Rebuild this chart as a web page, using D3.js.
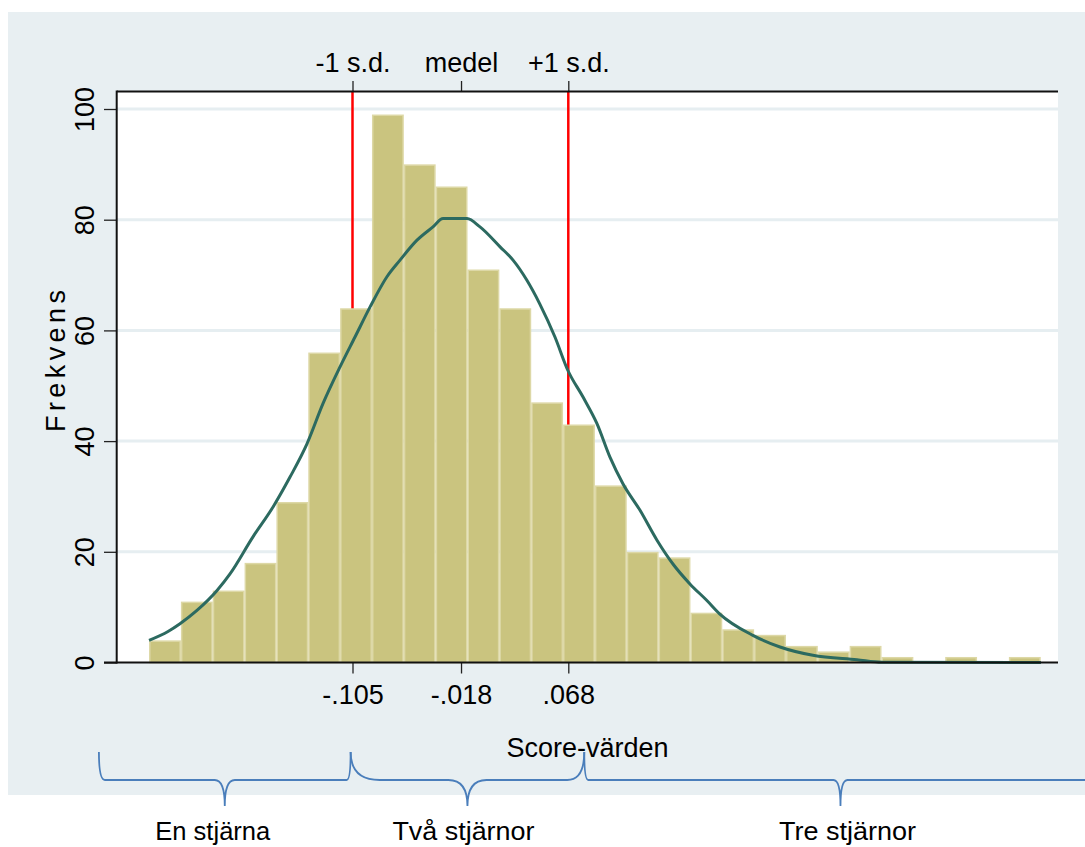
<!DOCTYPE html>
<html><head><meta charset="utf-8">
<script src="https://cdn.jsdelivr.net/npm/d3@7"></script>
<style>
body{margin:0;background:#fff}
svg{display:block}
text{font-family:"Liberation Sans",Arial,sans-serif;fill:#000}
</style>
</head><body>
<svg id="c" width="1085" height="847"></svg>
<script>
// ---------- data ----------
const binStart = -0.2681;
const binWidth = 0.02553;
const counts = [4,11,13,18,29,56,64,99,90,86,71,64,47,43,32,20,19,9,6,5,3,2,3,1,0,1,0,1];
const bottomTicks = [-0.105, -0.018, 0.068];
const bottomTickLabels = ["-.105", "-.018", ".068"];
const topTickLabels = ["-1 s.d.", "medel", "+1 s.d."];
const sdLines = [-0.105, 0.068];
const yTicks = [0, 20, 40, 60, 80, 100];
const curveX = [-0.2681,-0.2529,-0.2433,-0.2297,-0.2136,-0.2032,-0.1848,-0.1687,-0.1551,-0.1415,-0.1286,-0.1150,-0.1030,-0.0910,-0.0774,-0.0669,-0.0533,-0.0405,-0.0324,-0.0132,-0.0028,0.0133,0.0237,0.0347,0.0451,0.0573,0.0676,0.0797,0.0909,0.1014,0.1118,0.1255,0.1391,0.1519,0.1655,0.1791,0.1893,0.2160,0.2377,0.2641,0.2994,0.3194,0.4469];
const curveY = [4.0,5.6,7.0,9.4,13.0,16.0,22.7,28.1,33.5,39.5,46.8,53.4,58.8,64.2,69.7,72.7,76.3,78.7,80.2,80.2,78.7,75.1,72.7,69.1,64.8,58.8,52.8,48.0,43.2,37.1,32.3,27.5,22.1,17.8,14.2,11.2,8.8,4.9,2.8,1.3,0.5,0.05,0];
const groupNames = ["En stjärna", "Två stjärnor", "Tre stjärnor"];
const groupEdges = [-0.3083, -0.1065, 0.0808, 0.4916];
const xTitle = "Score-värden";
const yTitle = "Frekvens";

// ---------- layout ----------
const svg = d3.select("#c");
const L = 117, R = 1058, T = 91.5, B = 662.5;
const x = d3.scaleLinear().domain([-0.105, 0.068]).range([352.5, 568.3]);
const y = d3.scaleLinear().domain([0, 100]).range([B, 109]);

// background panel
svg.append("rect").attr("x", 8).attr("y", 12).attr("width", 1077).attr("height", 783).attr("fill", "#e8eff2");
// plot region
svg.append("rect").attr("x", L).attr("y", T).attr("width", R - L).attr("height", B - T).attr("fill", "#ffffff");

// gridlines
svg.append("g").selectAll("line").data(yTicks.filter(d => d > 0)).join("line")
  .attr("x1", L).attr("x2", R).attr("y1", d => y(d)).attr("y2", d => y(d))
  .attr("stroke", "#e6eef1").attr("stroke-width", 3);

// sd lines
svg.append("g").selectAll("line").data(sdLines).join("line")
  .attr("x1", d => x(d)).attr("x2", d => x(d)).attr("y1", T).attr("y2", B)
  .attr("stroke", "#ff0000").attr("stroke-width", 2.5);

// bars
svg.append("g").selectAll("rect").data(counts).join("rect")
  .attr("x", (d, i) => x(binStart + i * binWidth) + 0.75)
  .attr("width", (d, i) => x(binStart + (i + 1) * binWidth) - x(binStart + i * binWidth) - 1.5)
  .attr("y", d => y(d) + 0.75)
  .attr("height", d => Math.max(0, B - y(d) - 0.75))
  .attr("fill", d => d > 0 ? "#cac47f" : "none")
  .attr("stroke", d => d > 0 ? "#ddd8a6" : "none")
  .attr("stroke-width", 1.5);

// density curve
const pts = curveX.map((v, i) => [v, curveY[i]]);
svg.append("path").datum(pts)
  .attr("d", d3.line().x(d => x(d[0])).y(d => y(d[1])).curve(d3.curveMonotoneX))
  .attr("fill", "none").attr("stroke", "#2c6a60").attr("stroke-width", 3);

// axes
function styleAxis(g) {
  g.select(".domain").remove();
  g.selectAll(".tick line").attr("stroke", "#222").attr("stroke-width", 1.3);
  g.selectAll(".tick text").attr("font-size", 27).attr("font-family", "Liberation Sans, Arial, sans-serif").attr("fill", "#000");
}
// bottom
const gb = svg.append("g").attr("transform", `translate(0,${B})`)
  .call(d3.axisBottom(x).tickValues(bottomTicks).tickFormat((d, i) => bottomTickLabels[i]).tickSize(11).tickPadding(11.3));
styleAxis(gb);
// top
const gt = svg.append("g").attr("transform", `translate(0,${T})`)
  .call(d3.axisTop(x).tickValues(bottomTicks).tickFormat((d, i) => topTickLabels[i]).tickSize(10.5).tickPadding(9));
styleAxis(gt);
// left
const gl = svg.append("g").attr("transform", `translate(${L - 0.3},0)`)
  .call(d3.axisLeft(y).tickValues(yTicks).tickFormat(d3.format("d")).tickSize(12.7).tickPadding(10));
styleAxis(gl);
gl.selectAll(".tick text").attr("x", 0).attr("y", -22.7).attr("dy", 0)
  .attr("text-anchor", "middle").attr("transform", "rotate(-90)");

// axis lines
svg.append("line").attr("x1", 104).attr("x2", R).attr("y1", B).attr("y2", B).attr("stroke", "#111").attr("stroke-width", 2);
svg.append("line").attr("x1", L).attr("x2", R).attr("y1", T).attr("y2", T).attr("stroke", "#111").attr("stroke-width", 2);
svg.append("line").attr("x1", L - 0.3).attr("x2", L - 0.3).attr("y1", T - 1).attr("y2", B + 1).attr("stroke", "#111").attr("stroke-width", 2);

// axis titles
svg.append("text").attr("x", (L + R) / 2).attr("y", 757).attr("text-anchor", "middle")
  .attr("font-size", 27).text(xTitle);
svg.append("text").attr("transform", "translate(65,361) rotate(-90)").attr("text-anchor", "middle")
  .attr("font-size", 27).attr("textLength", 142).attr("lengthAdjust", "spacing").text(yTitle);

// braces
const braceStyle = [{er0: 6, cr: 10, er1: 4}, {er0: 29, cr: 19, er1: 17}, {er0: 4, cr: 7, er1: 4}];
const yTop = 752, yLine = 780, yCusp = 806;
const braces = groupNames.map((n, i) => ({name: n, x0: x(groupEdges[i]), x1: x(groupEdges[i + 1]), s: braceStyle[i]}));
svg.append("g").selectAll("path").data(braces).join("path")
  .attr("d", b => {
    const xm = (b.x0 + b.x1) / 2, s = b.s;
    return `M${b.x0},${yTop} Q${b.x0},${yLine} ${b.x0 + s.er0},${yLine} L${xm - s.cr},${yLine} Q${xm},${yLine} ${xm},${yCusp} ` +
           `Q${xm},${yLine} ${xm + s.cr},${yLine} L${b.x1 - s.er1},${yLine} Q${b.x1},${yLine} ${b.x1},${yTop}`;
  })
  .attr("fill", "none").attr("stroke", "#4a7ebb").attr("stroke-width", 1.8);

const labelLen = [115, 142, 137];
const labelShift = [-12, -4, 7];
svg.append("g").selectAll("text").data(braces).join("text")
  .attr("x", (b, i) => (b.x0 + b.x1) / 2 + labelShift[i]).attr("y", 840)
  .attr("text-anchor", "middle").attr("font-family", "Lato, 'Open Sans', sans-serif").attr("font-size", 25)
  .attr("textLength", (b, i) => labelLen[i]).attr("lengthAdjust", "spacingAndGlyphs")
  .text(b => b.name);
</script>
</body></html>
